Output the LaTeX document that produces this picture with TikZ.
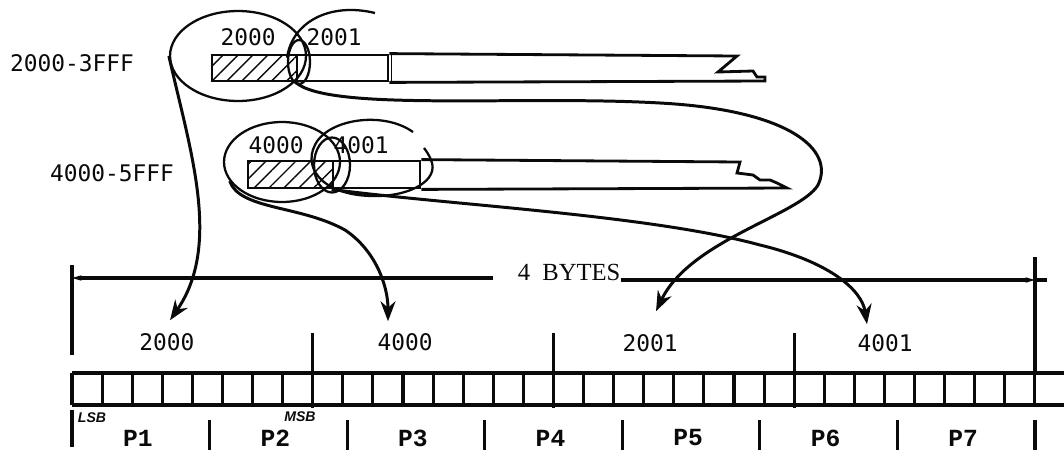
\documentclass[tikz,border=0pt]{standalone}
\usepackage{fontspec}
\setmainfont{Liberation Serif}
\setsansfont{Liberation Sans}
\setmonofont{Liberation Mono}
\newfontfamily\addrfont{DejaVu Sans Mono}
\usepackage{tikz}
\usetikzlibrary{shapes.geometric, arrows.meta, positioning, calc, patterns.meta}
\definecolor{ink}{RGB}{10,10,10}
\tikzset{
  rangelbl/.style={font=\fontsize{13}{15}\selectfont\addrfont, text=ink, inner sep=0pt},
  addrlbl/.style={font=\fontsize{13}{15}\selectfont\addrfont, text=ink, inner sep=1pt},
  bytelbl/.style={font=\fontsize{13}{15}\selectfont\addrfont, text=ink, inner sep=5pt},
  cell/.style={rectangle, draw=ink, line width=1.6pt, minimum height=0.52cm, inner sep=0pt},
  hatched/.style={pattern={Lines[angle=45, distance=6pt, line width=0.8pt]}, pattern color=ink},
  circled/.style={ellipse, draw=ink, line width=1.3pt, inner sep=0pt},
  arrow/.style={-{Stealth[length=4mm, width=3mm]}, line width=1.7pt, color=ink},
  dimarrow/.style={-{Stealth[length=4.5mm, width=2.6mm, inset=2.8mm]}, line width=1.8pt, color=ink},
  line/.style={line width=1.8pt, color=ink}
}

\begin{document}
\begin{tikzpicture}[x=0.02cm, y=-0.02cm,
  plbl/.style={font=\fontsize{14}{16}\selectfont\ttfamily\bfseries, text=ink, inner sep=0pt},
  bitmark/.style={font=\fontsize{8}{9}\selectfont\sffamily\bfseries\itshape, text=ink, inner sep=0pt}
]
\useasboundingbox (0,0) rectangle (1064,457);

%--- 2000-3FFF strip ---
\node[rangelbl] (r2000) at (72,63) {2000-3FFF};
\node[cell, hatched, minimum width=1.7cm] (b2000) at (254.5,68) {};
\node[cell, minimum width=1.82cm] (b2001) at (342.5,68) {};
\draw[line, line width=1.6pt] (b2001.north east) -- (737,56) -- (718,72) -- (753,71)
  -- (757,77) -- (765,77) -- (765,81) -- (b2001.south east);
\draw[ink, line width=0.5pt] (391,55) -- (391,81);
\node[addrlbl] (t2000) at (248,37) {2000};
\node[addrlbl] (t2001) at (334,37) {2001};

%--- 4000-5FFF strip ---
\node[rangelbl] (r4000) at (112,173) {4000-5FFF};
\node[cell, hatched, minimum width=1.7cm, minimum height=0.54cm] (b4000) at (290.5,174.5) {};
\node[cell, minimum width=1.74cm, minimum height=0.54cm] (b4001) at (376.5,174.5) {};
\draw[line, line width=1.6pt] (b4001.north east) -- (740,162) -- (737,173) -- (753,175)
  -- (760,180) -- (770,180) -- (777,183) -- (787,188) -- (b4001.south east);
\node[addrlbl] (t4000) at (276,145) {4000};
\node[addrlbl] (t4001) at (361,145) {4001};

% rings round the bytes
\node[circled, minimum width=2.72cm, minimum height=1.8cm] (e2000) at (238,56) {};
\node[circled, minimum width=0.44cm, minimum height=0.88cm] (e2001) at (299,62) {};
\draw[line, line width=1.3pt] (e2001.160) .. controls (292,22) and (330,2) .. (375,13);
\node[circled, minimum width=2.32cm, minimum height=1.6cm] (e4000) at (282,162) {};
\node[circled, minimum width=0.72cm, minimum height=1.1cm] (e4001) at (332,165) {};
\draw[line, line width=1.3pt] (413,132) .. controls (385,112) and (335,118) .. (318,140)
  .. controls (300,165) and (320,195) .. (372,196)
  .. controls (410,197) and (440,180) .. (431,160)
  .. controls (429,155) and (427,152) .. (424,148);

%--- 4 BYTES word ---
\node[bytelbl] (l2000) at (167,342) {2000};
\node[bytelbl] (l4000) at (405,342) {4000};
\node[bytelbl] (l2001) at (650,343) {2001};
\node[bytelbl] (l4001) at (885,343) {4001};

\coordinate (dimL) at (72,278);
\coordinate (dimR) at (1035,280);
\node[font=\fontsize{14}{16}\selectfont, text=ink, inner sep=0pt] (bytes) at (569,272) {4\hspace{7pt}BYTES};
\draw[dimarrow] ($(bytes.west |- dimL)+(-24,0)$) -- (dimL);
\draw[dimarrow] (bytes.east |- dimR) -- (dimR);
\draw[line] (dimR) -- ++(12,0);
\draw[line] (72,265) -- (72,355);
\draw[line] (1035,257) -- (1035,373);

% byte moves
\draw[arrow] (e2000.west) .. controls (190,150) and (222,245) .. ([shift={(3,-4)}]l2000.north);
\draw[arrow] (e4000.200) .. controls (240,210) and (300,205) .. (345,230)
  .. controls (375,250) and (388,285) .. ([shift={(-17,-3)}]l4000.north);
\draw[arrow] (b2001.south west) .. controls (330,112) and (520,95) .. (660,103)
  .. controls (790,110) and (835,150) .. (818,185)
  .. controls (800,215) and (690,240) .. ([shift={(6,-14)}]l2001.north);
\draw[arrow] (b4001.south west) .. controls (450,205) and (650,215) .. (760,245)
  .. controls (830,262) and (862,290) .. ([shift={(-18,-1)}]l4001.north);

%--- bit strip ---
\draw[line] (72,373) -- (1064,373);
\draw[line] (72,405) -- (1064,405);
\foreach \i in {0,...,32} {
  \draw[line] ({72+30.09*\i},373) -- ({72+30.09*\i},405);
}
\foreach \i in {8,16,24} {
  \draw[line] ({72+30.09*\i},333) -- ({72+30.09*\i},408);
}
\node[bitmark] (lsb) at (92,418) {LSB};
\node[bitmark] (msb) at (300,417) {MSB};

% partitions
\draw[line] (72,410) -- (72,447);
\foreach \k in {1,...,7} {
  \draw[line] ({72+137.57*\k},420) -- ({72+137.57*\k},450);
  \node[plbl] (p\k) at ({72+137.57*(\k-0.5)-3},438) {P\k};
}
\end{tikzpicture}
\end{document}
